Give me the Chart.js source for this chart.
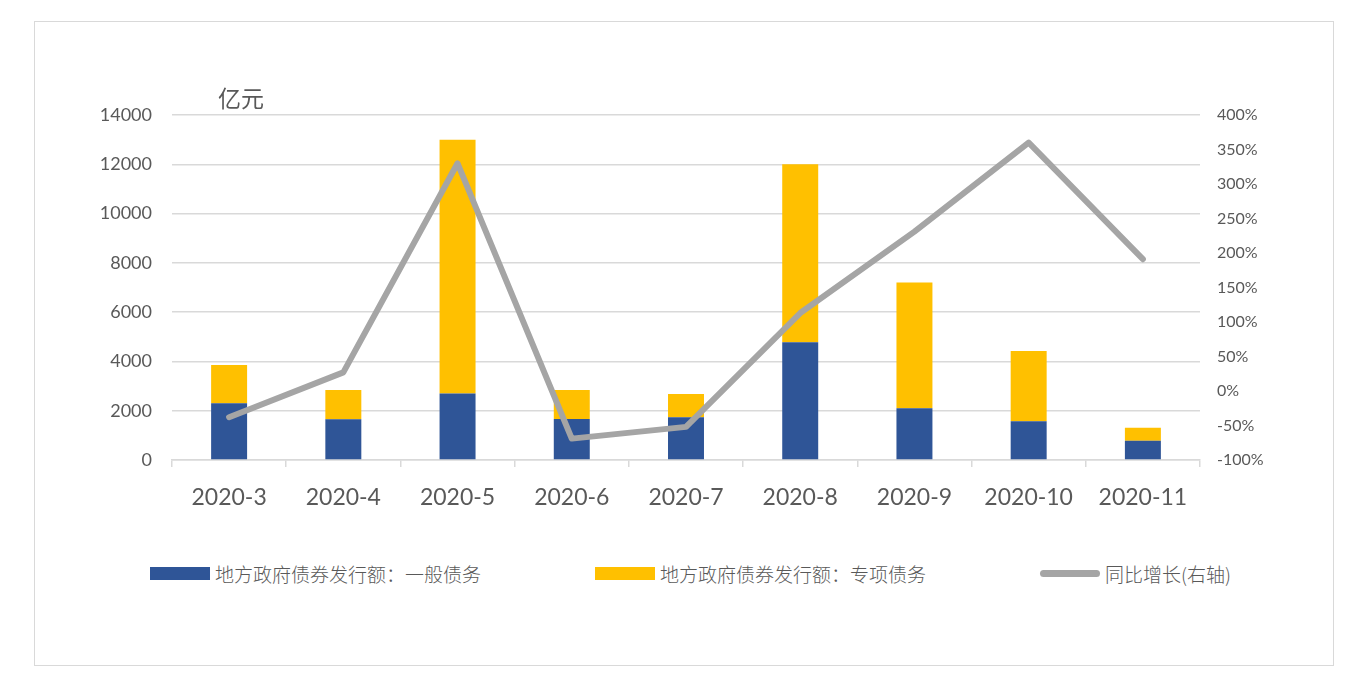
<!DOCTYPE html>
<html lang="zh">
<head>
    <meta charset="UTF-8">
    <title>地方政府债券发行额</title>
    <script src="https://cdn.jsdelivr.net/npm/chart.js"></script>
    <style>
        body { margin: 0; background: #fff; }
        #frame {
            position: absolute; left: 34px; top: 21px;
            width: 1298px; height: 643px;
            border: 1px solid #d9d9d9;
        }
        #chart { position: absolute; left: 0; top: 0; }
        #legend { position: absolute; left: 0; top: 540px; width: 100%; height: 22px; }
        .item {
            position: absolute; top: 0; height: 22px;
            display: flex; align-items: center;
            font: 300 19px "Noto Sans CJK SC", sans-serif; color: #595959;
        }
        .swatch { width: 60px; margin-right: 5px; }
    </style>
</head>
<body>
    <div id="frame">
        <canvas id="chart" width="1298" height="520"></canvas>
        <div id="legend"></div>
    </div>

    <script>
        const months = ['2020-3', '2020-4', '2020-5', '2020-6', '2020-7', '2020-8', '2020-9', '2020-10', '2020-11'];
        // 亿元
        const generalDebt = [2300, 1650, 2700, 1660, 1730, 4780, 2100, 1570, 780];
        const specialDebt = [1560, 1190, 10300, 1180, 950, 7220, 5100, 2850, 530];
        // 同比增长 %
        const yoyGrowth = [-38, 27, 330, -69, -52, 113, 231, 360, 191];

        const grey = '#595959';
        const gridGrey = '#d9d9d9';
        const numFont = 'Lato, "Noto Sans CJK SC", sans-serif';

        // "亿元" unit label above the left axis
        const unitLabel = {
            id: 'unitLabel',
            afterDraw(chart) {
                const ctx = chart.ctx;
                const area = chart.chartArea;
                ctx.save();
                ctx.font = '23px "Noto Sans CJK SC", sans-serif';
                ctx.fillStyle = grey;
                ctx.textBaseline = 'middle';
                ctx.fillText('亿元', area.left + 46, area.top - 17);
                ctx.restore();
            }
        };

        const chart = new Chart(document.getElementById('chart'), {
            type: 'bar',
            data: {
                labels: months,
                datasets: [
                    {
                        type: 'line',
                        label: '同比增长(右轴)',
                        data: yoyGrowth,
                        yAxisID: 'y1',
                        borderColor: '#a5a5a5',
                        backgroundColor: '#a5a5a5',
                        borderWidth: 6,
                        borderCapStyle: 'round',
                        borderJoinStyle: 'round',
                        pointRadius: 0,
                        tension: 0,
                        order: 0
                    },
                    {
                        label: '地方政府债券发行额：一般债务',
                        data: generalDebt,
                        backgroundColor: '#2f5597',
                        yAxisID: 'y',
                        stack: 'debt',
                        order: 1
                    },
                    {
                        label: '地方政府债券发行额：专项债务',
                        data: specialDebt,
                        backgroundColor: '#ffc000',
                        yAxisID: 'y',
                        stack: 'debt',
                        order: 1
                    }
                ]
            },
            options: {
                responsive: false,
                animation: false,
                layout: { padding: { top: 93, bottom: 22, left: 0, right: 0 } },
                datasets: {
                    bar: { categoryPercentage: 1, barPercentage: 0.315 }
                },
                plugins: {
                    legend: { display: false },
                    tooltip: { enabled: false }
                },
                scales: {
                    x: {
                        stacked: true,
                        grid: { drawOnChartArea: false, color: gridGrey, lineWidth: 1.5, tickLength: 7 },
                        border: { color: gridGrey, width: 1.5 },
                        ticks: { color: grey, font: { family: numFont, size: 23 }, padding: 17 },
                        afterFit(scale) { scale.height = 60; }
                    },
                    y: {
                        stacked: true,
                        position: 'left',
                        min: 0, max: 14000,
                        ticks: {
                            stepSize: 2000, color: grey, padding: 20,
                            font: { family: numFont, size: 18 },
                            callback: v => String(v)
                        },
                        grid: { color: gridGrey, lineWidth: 1.5, drawTicks: false },
                        border: { display: false },
                        afterFit(scale) { scale.width = 137; }
                    },
                    y1: {
                        position: 'right',
                        min: -100, max: 400,
                        ticks: {
                            stepSize: 50, color: grey, padding: 17,
                            font: { family: numFont, size: 16 },
                            callback: v => v + '%'
                        },
                        grid: { drawOnChartArea: false, drawTicks: false },
                        border: { display: false },
                        afterFit(scale) { scale.width = 133; }
                    }
                }
            },
            plugins: [unitLabel]
        });

        // legend laid out like the original (wide fixed spacing)
        const legendLefts = [115, 560, 1005];
        const legendOrder = [1, 2, 0];
        const legendEl = document.getElementById('legend');
        legendOrder.forEach((di, i) => {
            const ds = chart.data.datasets[di];
            const item = document.createElement('div');
            item.className = 'item';
            item.style.left = legendLefts[i] + 'px';
            const sw = document.createElement('span');
            sw.className = 'swatch';
            sw.style.background = ds.backgroundColor;
            if (ds.type === 'line') {
                sw.style.height = '7px';
                sw.style.borderRadius = '4px';
            } else {
                sw.style.height = '13px';
            }
            item.appendChild(sw);
            item.appendChild(document.createTextNode(ds.label));
            legendEl.appendChild(item);
        });
    </script>
</body>
</html>
